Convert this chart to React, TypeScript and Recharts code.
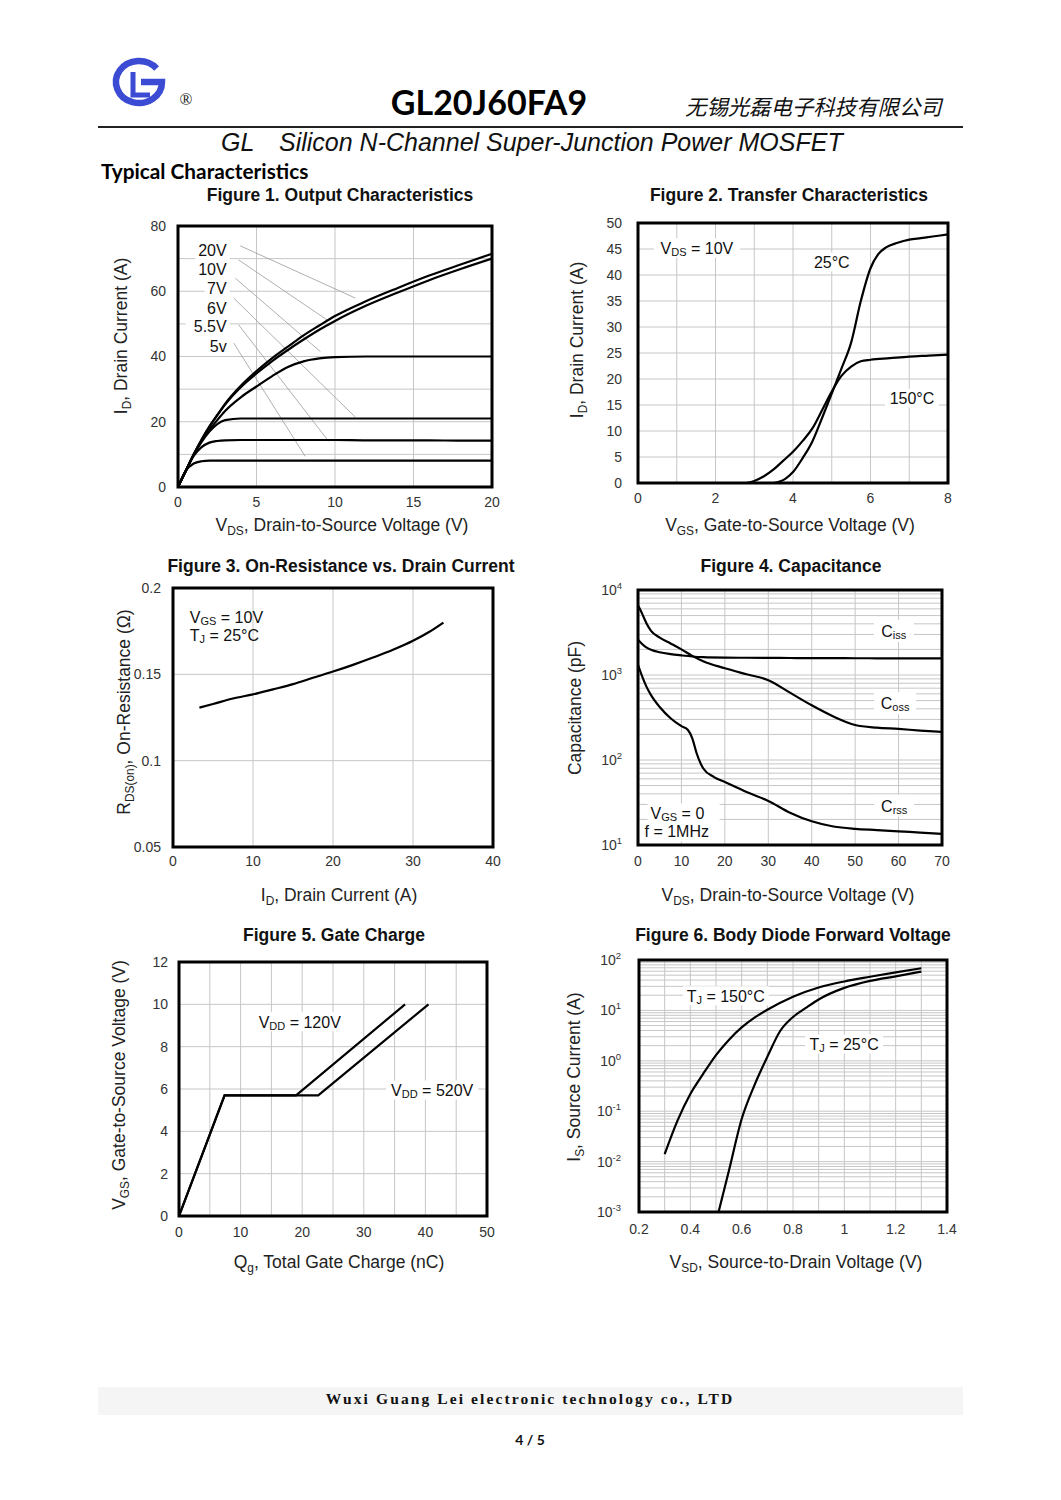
import React from 'react'
import {
  CartesianGrid,
  Line,
  LineChart,
  ReferenceArea,
  ReferenceDot,
  ReferenceLine,
  XAxis,
  YAxis,
} from 'recharts'

const FONT = '"Liberation Sans", Arial, Helvetica, sans-serif'
const INK = '#111'
const GRID = '#c6c6c6'
const TICK = '#333'

// ---------- Figure 1: output characteristics
const f1Vds = [0, 0.5, 1, 1.5, 2, 2.5, 3, 4, 5, 6, 7, 8, 9, 10, 12, 14, 16, 18, 20]
const f1Id20V = [0, 5, 10, 14.5, 18.5, 22, 25.5, 31, 35.5, 39.5, 43, 46.5, 49.5, 52.4, 57, 61, 64.8, 68.2, 71.5]
const f1Id10V = [0, 5, 10, 14.5, 18.5, 22, 25.3, 30.6, 34.8, 38.6, 42, 45.2, 48.2, 50.9, 55.6, 59.6, 63.4, 66.8, 70]
const f1Id7V = [0, 5, 10, 14, 17.5, 20.5, 23.3, 27.5, 30.8, 34, 36.8, 38.5, 39.4, 39.8, 40, 40, 40, 40, 40]
const f1Id6V = [0, 5, 9.8, 13.8, 17, 19.3, 20.5, 21, 21, 21, 21, 21, 21, 21, 21, 21, 21, 21, 21]
const f1Id55V = [0, 5, 9.5, 12.2, 13.6, 14.1, 14.3, 14.4, 14.4, 14.4, 14.4, 14.4, 14.4, 14.4, 14.3, 14.3, 14.3, 14.2, 14.2]
const f1Id5V = [0, 5, 7.2, 7.9, 8.1, 8.1, 8.1, 8.1, 8.1, 8.1, 8.1, 8.1, 8.1, 8.1, 8.1, 8.1, 8.1, 8.1, 8.1]
const f1XTicks = [0, 5, 10, 15, 20]
const f1YTicks = [0, 10, 20, 30, 40, 50, 60, 70, 80]
const f1Labels = ['20V', '10V', '7V', '6V', '5.5V', '5v']
const f1LabelY = [72.6, 66.7, 60.9, 54.8, 49.1, 43.2]
// leader lines: [x1, y1, x2, y2] in data units
const f1Leaders = [
  [3.97, 73.9, 11.3, 57.9],
  [3.86, 69.6, 9.5, 51.2],
  [3.65, 64, 9.07, 41.5],
  [3.55, 57.9, 11.3, 21.4],
  [3.86, 49.7, 9.6, 14],
  [3.55, 44.1, 8.1, 9.4],
]

// ---------- Figure 2: transfer characteristics
const f2Vgs25 = [3.5, 3.8, 4.0, 4.25, 4.5, 4.75, 5.0, 5.25, 5.5, 5.75, 6.0, 6.2, 6.4, 6.7, 7.0, 7.3, 7.6, 8.0]
const f2Id25 = [0, 0.8, 2.1, 4.8, 8, 12.5, 17.2, 22, 27, 35, 41.3, 44, 45.3, 46.2, 46.8, 47.1, 47.4, 47.8]
const f2Vgs150 = [2.8, 3.0, 3.25, 3.5, 3.75, 4.0, 4.25, 4.5, 4.75, 5.0, 5.25, 5.5, 5.75, 6.0, 6.5, 7.0, 7.5, 8.0]
const f2Id150 = [0, 0.4, 1.3, 2.6, 4.3, 6.0, 8.1, 10.5, 14, 17.6, 20.6, 22.4, 23.4, 23.7, 24.0, 24.3, 24.5, 24.7]
const f2XTicks = [0, 1, 2, 3, 4, 5, 6, 7, 8]
const f2YTicks = [0, 5, 10, 15, 20, 25, 30, 35, 40, 45, 50]

// ---------- Figure 3: on-resistance vs drain current
const f3Id = [3.3, 5, 7.5, 10, 12.5, 15, 17.5, 20, 22.5, 25, 27.5, 30, 32, 33.8]
const f3Rds = [0.1307, 0.1328, 0.136, 0.1384, 0.1413, 0.1443, 0.148, 0.1516, 0.1555, 0.1597, 0.1642, 0.1694, 0.1745, 0.18]
const f3XTicks = [0, 10, 20, 30, 40]
const f3YTicks = [0.05, 0.1, 0.15, 0.2]

// ---------- Figure 4: capacitance
const f4Vds = [0, 1, 2, 3, 5, 7.5, 10, 12.5, 15, 20, 25, 30, 35, 40, 45, 50, 55, 60, 65, 70]
const f4Ciss = [2600, 2300, 2100, 1980, 1850, 1760, 1700, 1650, 1620, 1600, 1595, 1590, 1585, 1580, 1578, 1575, 1573, 1572, 1571, 1570]
const f4Coss = [6600, 5200, 4000, 3300, 2750, 2350, 2000, 1680, 1450, 1200, 1020, 870, 620, 440, 325, 258, 240, 232, 222, 214]
const f4VdsR = [0, 1, 2, 3, 5, 7.5, 10, 11.5, 12.5, 13.5, 15, 17.5, 20, 25, 30, 35, 40, 45, 50, 55, 60, 65, 70]
const f4Crss = [1320, 950, 720, 580, 420, 310, 250, 225, 180, 120, 80, 63, 55, 42, 33, 24, 19, 16.5, 15.5, 15, 14.5, 14, 13.5]
const f4XTicks = [0, 10, 20, 30, 40, 50, 60, 70]

// ---------- Figure 5: gate charge
const f5Qg120 = [0, 7.4, 19.0, 36.7]
const f5Qg520 = [0, 7.4, 22.6, 40.5]
const f5Vgs = [0, 5.7, 5.7, 10]
const f5XTicks = [0, 5, 10, 15, 20, 25, 30, 35, 40, 45, 50]
const f5YTicks = [0, 2, 4, 6, 8, 10, 12]

// ---------- Figure 6: body diode forward voltage
const f6Vsd150 = [0.3, 0.35, 0.4, 0.45, 0.5, 0.55, 0.6, 0.65, 0.7, 0.8, 0.9, 1.0, 1.1, 1.2, 1.3]
const f6Is150 = [0.014, 0.065, 0.22, 0.55, 1.3, 2.6, 4.6, 7.2, 10.3, 18.7, 28.5, 37.5, 46.5, 57, 68.5]
const f6Vsd25 = [0.51, 0.55, 0.6, 0.65, 0.7, 0.75, 0.8, 0.85, 0.9, 1.0, 1.1, 1.2, 1.3]
const f6Is25 = [0.001, 0.0065, 0.07, 0.33, 1.2, 3.9, 7.4, 11.2, 16.5, 28, 38.5, 47.5, 59]
const f6XTicks = [0.2, 0.3, 0.4, 0.5, 0.6, 0.7, 0.8, 0.9, 1.0, 1.1, 1.2, 1.3, 1.4]

const pts = (xs: number[], ys: number[]) => xs.map((x, i) => ({ x, y: ys[i] }))

function logTicks(lo: number, hi: number) {
  const out: number[] = []
  for (let e = lo; e < hi; e++) for (let m = 1; m < 10; m++) out.push(m * Math.pow(10, e))
  out.push(Math.pow(10, hi))
  return out
}

const tickStyle = { fontSize: 14, fill: TICK, fontFamily: FONT }

function PowTick(props: any) {
  const { x, y, payload } = props
  const e = Math.log10(payload.value)
  const r = Math.round(e)
  if (Math.abs(e - r) > 1e-6) return <g />
  return (
    <text x={x} y={y} textAnchor="end" dy="0.36em" fontSize={14} fontFamily={FONT} fill={TICK}>
      10<tspan dy={-6} fontSize={9.5}>{r}</tspan>
    </text>
  )
}

// subscripted text inside svg
function S({ a, s, b }: { a: string; s: string; b: string }) {
  return (
    <>
      <tspan>{a}</tspan>
      <tspan dy={4} fontSize={11}>{s}</tspan>
      <tspan dy={-4}>{b}</tspan>
    </>
  )
}

type TagOpts = { anchor?: 'start' | 'middle' | 'end'; w: number; h?: number; bg?: boolean }
function tag(content: React.ReactNode, o: TagOpts) {
  return (p: any) => {
    const h = o.h ?? 19
    const a = o.anchor ?? 'middle'
    const rx = a === 'start' ? p.cx - 3 : a === 'end' ? p.cx - o.w + 3 : p.cx - o.w / 2
    return (
      <g>
        {o.bg !== false && <rect x={rx} y={p.cy - h / 2} width={o.w} height={h} fill="#fff" />}
        <text x={p.cx} y={p.cy} textAnchor={a} dominantBaseline="central" fontSize={16} fontFamily={FONT} fill={INK}>
          {content}
        </text>
      </g>
    )
  }
}

const YW = 70
const XH = 40
const MT = 12
const MR = 12

function Plot({ box, children }: { box: number[]; children: React.ReactNode }) {
  const [x0, y0, x1, y1] = box
  return (
    <div style={{ position: 'absolute', left: x0 - YW, top: y0 - MT }}>
      <LineChart
        width={x1 - x0 + YW + MR}
        height={y1 - y0 + MT + XH}
        margin={{ top: MT, right: MR, left: 0, bottom: 0 }}
      >
        {children}
      </LineChart>
    </div>
  )
}

const curve = (data: { x: number; y: number }[], key: string, linear = false) => (
  <Line
    key={key}
    data={data}
    dataKey="y"
    type={linear ? 'linear' : 'monotone'}
    stroke="#000"
    strokeWidth={2.2}
    dot={false}
    isAnimationActive={false}
  />
)

const frame = (x1: number, x2: number, y1: number, y2: number) => (
  <ReferenceArea x1={x1} x2={x2} y1={y1} y2={y2} fill="none" fillOpacity={0} stroke="#000" strokeWidth={3} ifOverflow="visible" />
)

function Center({ x, y, children, style }: { x: number; y: number; children: React.ReactNode; style?: React.CSSProperties }) {
  return (
    <div
      style={{
        position: 'absolute',
        left: x,
        top: y,
        transform: 'translate(-50%, -50%)',
        whiteSpace: 'nowrap',
        lineHeight: 1,
        ...style,
      }}
    >
      {children}
    </div>
  )
}

const axisTitle: React.CSSProperties = { fontFamily: FONT, fontSize: 17.5, color: '#222' }
const vTitle: React.CSSProperties = { ...axisTitle, transform: 'translate(-50%, -50%) rotate(-90deg)' }
const figTitle: React.CSSProperties = { fontFamily: FONT, fontSize: 17.5, fontWeight: 700, color: INK }
const Sub = ({ children }: { children: React.ReactNode }) => (
  <span style={{ fontSize: '0.68em', position: 'relative', top: '0.35em' }}>{children}</span>
)

function Logo() {
  const cx = 139
  const cy = 82
  const rx = 23
  const ry = 21
  const a = (-40 * Math.PI) / 180
  const sx = cx + rx * Math.cos(a)
  const sy = cy + ry * Math.sin(a)
  return (
    <svg width={120} height={70} viewBox="100 50 120 70" style={{ position: 'absolute', left: 100, top: 50 }}>
      <path
        d={`M ${sx} ${sy} A ${rx} ${ry} 0 1 0 ${cx + rx} ${cy} L ${cx + 2} ${cy}`}
        fill="none"
        stroke="#3c4bd3"
        strokeWidth={6.5}
      />
      <path d={`M 133 72 L 133 95 L 150 95`} fill="none" stroke="#3c4bd3" strokeWidth={5} />
      <text x={186} y={105} textAnchor="middle" fontSize={17} fontFamily='"Liberation Serif", serif' fill="#222">
        ®
      </text>
    </svg>
  )
}

export default function App() {
  const f1Series = [f1Id20V, f1Id10V, f1Id7V, f1Id6V, f1Id55V, f1Id5V]
  return (
    <div style={{ position: 'absolute', left: 0, top: 0, width: 1061, height: 1500, background: '#fff', overflow: 'hidden' }}>
      {/* header */}
      <Logo />
      <Center x={489} y={102} style={{ fontFamily: 'Lato, sans-serif', fontWeight: 700, fontSize: 34, color: '#000' }}>
        GL20J60FA9
      </Center>
      <div
        style={{
          position: 'absolute',
          left: 685,
          top: 95,
          fontFamily: '"Noto Sans CJK SC", sans-serif',
          fontStyle: 'italic',
          fontSize: 21.4,
          lineHeight: 1,
          color: '#111',
          whiteSpace: 'nowrap',
        }}
      >
        无锡光磊电子科技有限公司
      </div>
      <div style={{ position: 'absolute', left: 98, top: 126, width: 865, height: 1.5, background: '#222' }} />
      <div style={{ position: 'absolute', left: 221, top: 130, fontFamily: FONT, fontStyle: 'italic', fontSize: 25, lineHeight: 1, color: '#111' }}>
        GL
      </div>
      <div
        style={{ position: 'absolute', left: 279, top: 130, fontFamily: FONT, fontStyle: 'italic', fontSize: 25, lineHeight: 1, color: '#111', whiteSpace: 'nowrap' }}
      >
        Silicon N-Channel Super-Junction Power MOSFET
      </div>
      <div style={{ position: 'absolute', left: 101, top: 161, fontFamily: 'Lato, sans-serif', fontWeight: 700, fontSize: 20.8, lineHeight: 1, color: '#000' }}>
        Typical Characteristics
      </div>

      {/* figure titles */}
      <Center x={340} y={196} style={figTitle}>Figure 1. Output Characteristics</Center>
      <Center x={789} y={196} style={figTitle}>Figure 2. Transfer Characteristics</Center>
      <Center x={341} y={567} style={figTitle}>Figure 3. On-Resistance vs. Drain Current</Center>
      <Center x={791} y={567} style={figTitle}>Figure 4. Capacitance</Center>
      <Center x={334} y={936} style={figTitle}>Figure 5. Gate Charge</Center>
      <Center x={793} y={936} style={figTitle}>Figure 6. Body Diode Forward Voltage</Center>

      {/* Figure 1 */}
      <Plot box={[178, 226, 492, 487]}>
        <CartesianGrid stroke={GRID} />
        <XAxis type="number" dataKey="x" domain={[0, 20]} ticks={f1XTicks} interval={0} tick={tickStyle} tickLine={false} axisLine={false} tickSize={0} tickMargin={10} height={XH} allowDataOverflow />
        <YAxis type="number" domain={[0, 80]} ticks={f1YTicks} interval={0} tickFormatter={(v: number) => (v % 20 === 0 ? String(v) : '')} tick={tickStyle} tickLine={false} axisLine={false} tickSize={0} tickMargin={12} width={YW} allowDataOverflow />
        {f1Leaders.map((l, i) => (
          <ReferenceLine key={'ld' + i} segment={[{ x: l[0], y: l[1] }, { x: l[2], y: l[3] }]} stroke="#9a9a9a" strokeWidth={0.8} ifOverflow="visible" />
        ))}
        {f1Labels.map((t, i) => (
          <ReferenceDot key={'lb' + i} x={3.1} y={f1LabelY[i]} r={0} ifOverflow="visible" shape={tag(t, { anchor: 'end', w: t.length * 9.5 + 6 })} />
        ))}
        {f1Series.map((s, i) => curve(pts(f1Vds, s), 'f1' + i))}
        {frame(0, 20, 0, 80)}
      </Plot>
      <Center x={122} y={336} style={vTitle}>I<Sub>D</Sub>, Drain Current (A)</Center>
      <Center x={342} y={526} style={axisTitle}>V<Sub>DS</Sub>, Drain-to-Source Voltage (V)</Center>

      {/* Figure 2 */}
      <Plot box={[638, 223, 948, 483]}>
        <CartesianGrid stroke={GRID} />
        <XAxis type="number" dataKey="x" domain={[0, 8]} ticks={f2XTicks} interval={0} tickFormatter={(v: number) => (v % 2 === 0 ? String(v) : '')} tick={tickStyle} tickLine={false} axisLine={false} tickSize={0} tickMargin={10} height={XH} allowDataOverflow />
        <YAxis type="number" domain={[0, 50]} ticks={f2YTicks} interval={0} tick={tickStyle} tickLine={false} axisLine={false} tickSize={0} tickMargin={16} width={YW} allowDataOverflow />
        <ReferenceDot x={1.52} y={45.2} r={0} ifOverflow="visible" shape={tag(<S a="V" s="DS" b=" = 10V" />, { w: 86 })} />
        <ReferenceDot x={5.0} y={42.5} r={0} ifOverflow="visible" shape={tag('25°C', { w: 44 })} />
        <ReferenceDot x={7.07} y={16.3} r={0} ifOverflow="visible" shape={tag('150°C', { w: 54 })} />
        {curve(pts(f2Vgs25, f2Id25), 'f2a')}
        {curve(pts(f2Vgs150, f2Id150), 'f2b')}
        {frame(0, 8, 0, 50)}
      </Plot>
      <Center x={578} y={340} style={vTitle}>I<Sub>D</Sub>, Drain Current (A)</Center>
      <Center x={790} y={526} style={axisTitle}>V<Sub>GS</Sub>, Gate-to-Source Voltage (V)</Center>

      {/* Figure 3 */}
      <Plot box={[173, 588, 493, 847]}>
        <CartesianGrid stroke={GRID} />
        <XAxis type="number" dataKey="x" domain={[0, 40]} ticks={f3XTicks} interval={0} tick={tickStyle} tickLine={false} axisLine={false} tickSize={0} tickMargin={9} height={XH} allowDataOverflow />
        <YAxis type="number" domain={[0.05, 0.2]} ticks={f3YTicks} interval={0} tickFormatter={(v: number) => String(v)} tick={tickStyle} tickLine={false} axisLine={false} tickSize={0} tickMargin={12} width={YW} allowDataOverflow />
        <ReferenceDot x={2.1} y={0.1834} r={0} ifOverflow="visible" shape={tag(<S a="V" s="GS" b=" = 10V" />, { anchor: 'start', w: 80, bg: false })} />
        <ReferenceDot x={2.1} y={0.1728} r={0} ifOverflow="visible" shape={tag(<S a="T" s="J" b=" = 25°C" />, { anchor: 'start', w: 80, bg: false })} />
        {curve(pts(f3Id, f3Rds), 'f3')}
        {frame(0, 40, 0.05, 0.2)}
      </Plot>
      <Center x={125} y={712} style={vTitle}>R<Sub>DS(on)</Sub>, On-Resistance (Ω)</Center>
      <Center x={339} y={896} style={axisTitle}>I<Sub>D</Sub>, Drain Current (A)</Center>

      {/* Figure 4 */}
      <Plot box={[638, 590, 942, 845]}>
        <CartesianGrid stroke={GRID} />
        <XAxis type="number" dataKey="x" domain={[0, 70]} ticks={f4XTicks} interval={0} tick={tickStyle} tickLine={false} axisLine={false} tickSize={0} tickMargin={11} height={XH} allowDataOverflow />
        <YAxis type="number" scale="log" domain={[10, 10000]} ticks={logTicks(1, 4)} interval={0} tick={<PowTick />} tickLine={false} axisLine={false} tickSize={0} tickMargin={16} width={YW} allowDataOverflow />
        <ReferenceDot x={58.9} y={3300} r={0} ifOverflow="visible" shape={tag(<S a="C" s="iss" b="" />, { w: 40, h: 22 })} />
        <ReferenceDot x={59.2} y={464} r={0} ifOverflow="visible" shape={tag(<S a="C" s="oss" b="" />, { w: 42, h: 22 })} />
        <ReferenceDot x={59.0} y={29} r={0} ifOverflow="visible" shape={tag(<S a="C" s="rss" b="" />, { w: 40, h: 22 })} />
        <ReferenceDot x={2.9} y={23.6} r={0} ifOverflow="visible" shape={tag(<S a="V" s="GS" b=" = 0" />, { anchor: 'start', w: 72, h: 20 })} />
        <ReferenceDot x={1.5} y={14.4} r={0} ifOverflow="visible" shape={tag('f = 1MHz', { anchor: 'start', w: 72, h: 20 })} />
        {curve(pts(f4Vds, f4Ciss), 'f4a')}
        {curve(pts(f4Vds, f4Coss), 'f4b')}
        {curve(pts(f4VdsR, f4Crss), 'f4c')}
        {frame(0, 70, 10, 10000)}
      </Plot>
      <Center x={576} y={708} style={vTitle}>Capacitance (pF)</Center>
      <Center x={788} y={896} style={axisTitle}>V<Sub>DS</Sub>, Drain-to-Source Voltage (V)</Center>

      {/* Figure 5 */}
      <Plot box={[179, 962, 487, 1216]}>
        <CartesianGrid stroke={GRID} />
        <XAxis type="number" dataKey="x" domain={[0, 50]} ticks={f5XTicks} interval={0} tickFormatter={(v: number) => (v % 10 === 0 ? String(v) : '')} tick={tickStyle} tickLine={false} axisLine={false} tickSize={0} tickMargin={11} height={XH} allowDataOverflow />
        <YAxis type="number" domain={[0, 12]} ticks={f5YTicks} interval={0} tick={tickStyle} tickLine={false} axisLine={false} tickSize={0} tickMargin={11} width={YW} allowDataOverflow />
        <ReferenceDot x={19.6} y={9.18} r={0} ifOverflow="visible" shape={tag(<S a="V" s="DD" b=" = 120V" />, { w: 92 })} />
        <ReferenceDot x={41.1} y={5.95} r={0} ifOverflow="visible" shape={tag(<S a="V" s="DD" b=" = 520V" />, { w: 92 })} />
        {curve(pts(f5Qg120, f5Vgs), 'f5a', true)}
        {curve(pts(f5Qg520, f5Vgs), 'f5b', true)}
        {frame(0, 50, 0, 12)}
      </Plot>
      <Center x={120} y={1085} style={vTitle}>V<Sub>GS</Sub>, Gate-to-Source Voltage (V)</Center>
      <Center x={339} y={1263} style={axisTitle}>Q<Sub>g</Sub>, Total Gate Charge (nC)</Center>

      {/* Figure 6 */}
      <Plot box={[639, 960, 947, 1212]}>
        <CartesianGrid stroke={GRID} />
        <XAxis type="number" dataKey="x" domain={[0.2, 1.4]} ticks={f6XTicks} interval={0} tickFormatter={(v: number) => (Math.round(v * 10) % 2 === 0 ? String(v) : '')} tick={tickStyle} tickLine={false} axisLine={false} tickSize={0} tickMargin={12} height={XH} allowDataOverflow />
        <YAxis type="number" scale="log" domain={[0.001, 100]} ticks={logTicks(-3, 2)} interval={0} tick={<PowTick />} tickLine={false} axisLine={false} tickSize={0} tickMargin={18} width={YW} allowDataOverflow />
        <ReferenceDot x={0.538} y={19.5} r={0} ifOverflow="visible" shape={tag(<S a="T" s="J" b=" = 150°C" />, { w: 86 })} />
        <ReferenceDot x={0.999} y={2.15} r={0} ifOverflow="visible" shape={tag(<S a="T" s="J" b=" = 25°C" />, { w: 78 })} />
        {curve(pts(f6Vsd150, f6Is150), 'f6a')}
        {curve(pts(f6Vsd25, f6Is25), 'f6b')}
        {frame(0.2, 1.4, 0.001, 100)}
      </Plot>
      <Center x={575} y={1077} style={vTitle}>I<Sub>S</Sub>, Source Current (A)</Center>
      <Center x={796} y={1263} style={axisTitle}>V<Sub>SD</Sub>, Source-to-Drain Voltage (V)</Center>

      {/* footer */}
      <div style={{ position: 'absolute', left: 98, top: 1387, width: 865, height: 28, background: '#f5f5f5' }} />
      <Center x={530} y={1399} style={{ fontFamily: '"Liberation Serif", serif', fontWeight: 700, fontSize: 15.5, letterSpacing: 2.1, color: '#111' }}>
        Wuxi Guang Lei electronic technology co., LTD
      </Center>
      <Center x={530} y={1440} style={{ fontFamily: 'Lato, sans-serif', fontWeight: 700, fontSize: 14, color: '#111' }}>
        4 / 5
      </Center>
    </div>
  )
}
